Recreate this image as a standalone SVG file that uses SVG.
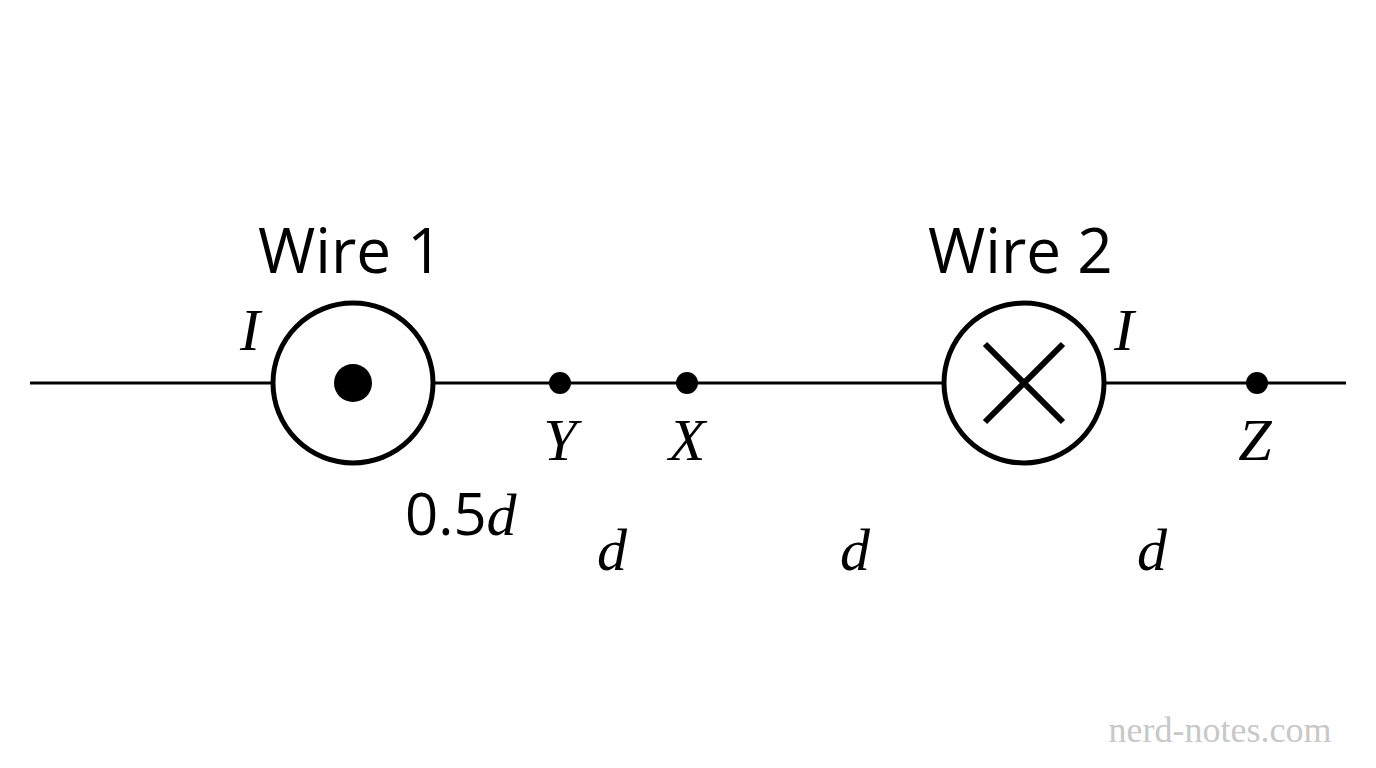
<svg xmlns="http://www.w3.org/2000/svg" width="1376" height="768" viewBox="0 0 1376 768">
<style>
.w{font-family:"Open Sans","Noto Sans",sans-serif;font-size:62px;fill:#000}
.m{font-family:"Liberation Serif","DejaVu Serif",serif;font-style:italic;font-size:60px;fill:#000;text-anchor:middle}
.c{fill:#fff;stroke:#000;stroke-width:5}
</style>
<rect width="1376" height="768" fill="#fff"/>
<g id="connectors"><line x1="30" y1="383" x2="1346" y2="383" stroke="#000" stroke-width="3"/></g>
<g id="wire1"><circle class="c" cx="353" cy="383" r="80"/><circle cx="353" cy="383" r="19"/>
<text class="w" x="258" y="273">Wire 1</text><text class="m" x="250" y="350">I</text></g>
<g id="wire2"><circle class="c" cx="1024" cy="383" r="80"/>
<path d="M985 344L1063 422M1063 344L985 422" stroke="#000" stroke-width="6"/>
<text class="w" x="928" y="273">Wire 2</text><text class="m" x="1124" y="350">I</text></g>
<g id="Y"><circle cx="560" cy="383" r="11"/><text class="m" x="560" y="460">Y</text></g>
<g id="X"><circle cx="687" cy="383" r="11"/><text class="m" x="687" y="460">X</text></g>
<g id="Z"><circle cx="1257" cy="383" r="11"/><text class="m" x="1255" y="460">Z</text></g>
<text x="405" y="535" font-family="Open Sans,sans-serif" font-size="58">0.5<tspan font-family="Liberation Serif,serif" font-style="italic" font-size="60">d</tspan></text>
<text class="m" x="612" y="570">d</text><text class="m" x="855" y="570">d</text><text class="m" x="1152" y="570">d</text>
<text x="1220" y="742" text-anchor="middle" font-family="Liberation Serif,serif" font-size="36" fill="#c8c8c8">nerd-notes.com</text>
</svg>
